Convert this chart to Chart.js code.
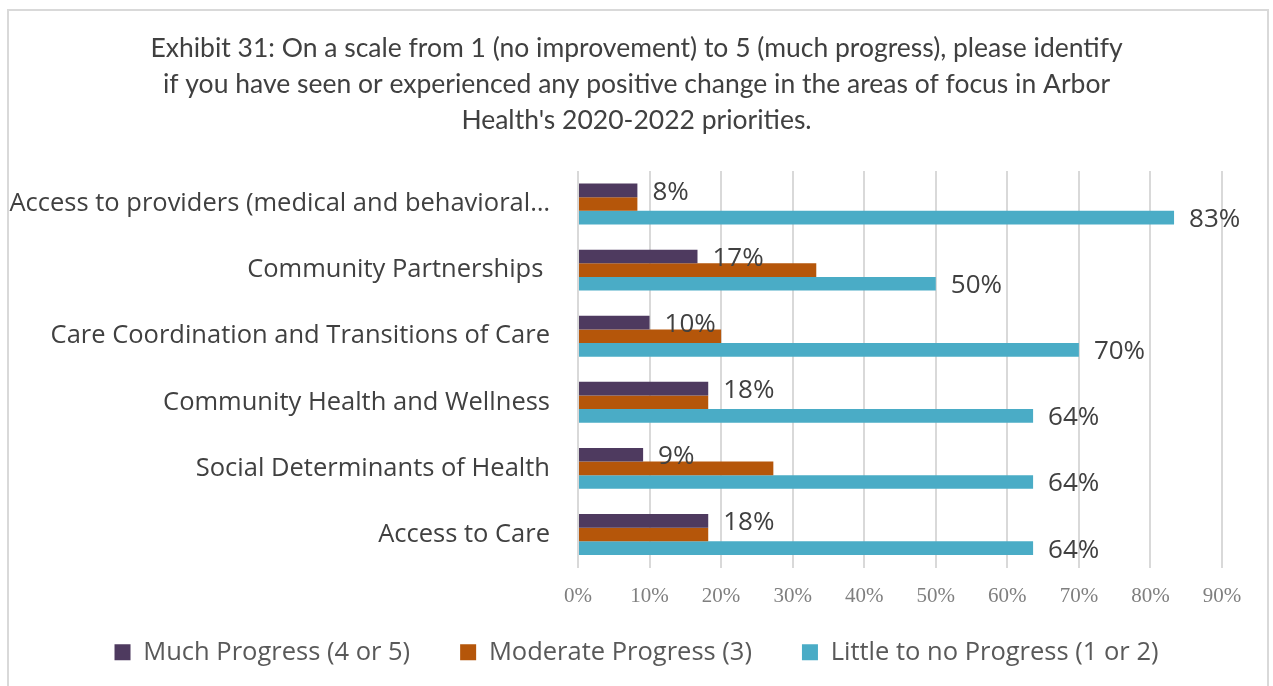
<!DOCTYPE html>
<html>
<head>
<meta charset="utf-8">
<script src="https://cdn.jsdelivr.net/npm/chart.js@4"></script>
<style>
  html, body { margin: 0; padding: 0; background: #ffffff; }
  #wrap { position: relative; width: 1273px; height: 686px; overflow: hidden; }
  #frame { position: absolute; left: 7px; top: 9px; width: 1262px; height: 700px; border: 2px solid #d9d9d9; box-sizing: border-box; pointer-events: none; }
  canvas { position: absolute; left: 0; top: 0; }
</style>
</head>
<body>
<div id="wrap">
  <canvas id="c" width="1273" height="686"></canvas>
  <div id="frame"></div>
</div>
<script>
const categories = [
  "Access to providers (medical and behavioral\u2026",
  "Community Partnerships ",
  "Care Coordination and Transitions of Care",
  "Community Health and Wellness",
  "Social Determinants of Health",
  "Access to Care"
];
const muchProgress     = [8.3, 16.7, 10.0, 18.2, 9.1, 18.2];
const moderateProgress = [8.3, 33.3, 20.0, 18.2, 27.3, 18.2];
const littleProgress   = [83.3, 50.0, 70.0, 63.6, 63.6, 63.6];
const seriesNames = ["Much Progress (4 or 5)", "Moderate Progress (3)", "Little to no Progress (1 or 2)"];
const titleLines = [
  "Exhibit 31: On a scale from 1 (no improvement) to 5 (much progress), please identify",
  "if you have seen or experienced any positive change in the areas of focus in Arbor",
  "Health's 2020-2022 priorities."
];
const labelledSeries = [0, 2];

const valueLabels = {
  id: 'valueLabels',
  afterDatasetsDraw(chart) {
    const ctx = chart.ctx;
    ctx.save();
    ctx.font = '26px "Open Sans"';
    ctx.fillStyle = '#404040';
    ctx.textAlign = 'left';
    ctx.textBaseline = 'middle';
    labelledSeries.forEach(di => {
      const meta = chart.getDatasetMeta(di);
      meta.data.forEach((el, i) => {
        const v = chart.data.datasets[di].data[i];
        ctx.fillText(Math.round(v) + '%', el.x + 15, el.y + 2);
      });
    });
    ctx.restore();
  }
};

new Chart(document.getElementById('c'), {
  type: 'bar',
  data: {
    labels: categories,
    datasets: [
      { label: seriesNames[0], data: muchProgress, backgroundColor: '#4e3a5f' },
      { label: seriesNames[1], data: moderateProgress, backgroundColor: '#b5560a' },
      { label: seriesNames[2], data: littleProgress, backgroundColor: '#4aacc6' }
    ]
  },
  options: {
    indexAxis: 'y',
    responsive: false,
    animation: false,
    datasets: { bar: { categoryPercentage: 0.62, barPercentage: 1.0 } },
    layout: { padding: { left: 51, right: 51, top: 0, bottom: 11 } },
    scales: {
      x: {
        min: 0, max: 90,
        ticks: {
          stepSize: 10,
          callback: v => v + '%',
          color: '#7f7f7f',
          font: { family: '"Liberation Serif"', size: 21 },
          padding: 16
        },
        grid: { color: '#d9d9d9', lineWidth: 2, drawTicks: false },
        border: { display: false },
        afterFit(scale) { scale.height = 22; scale._computeLabelArea = () => undefined; }
      },
      y: {
        ticks: {
          color: '#404040',
          font: { family: '"Open Sans"', size: 25.5 },
          padding: 28
        },
        grid: { display: false, drawTicks: false },
        border: { display: false },
        afterFit(scale) { scale.width = 527; scale._computeLabelArea = () => undefined; }
      }
    },
    plugins: {
      title: {
        display: true,
        text: titleLines,
        color: '#404040',
        font: { family: 'Lato', size: 26.5, weight: 'normal', lineHeight: 36 / 26.5 },
        padding: { top: 30, bottom: 33 }
      },
      legend: {
        position: 'bottom',
        labels: {
          boxWidth: 16,
          boxHeight: 16,
          padding: 50,
          color: '#595959',
          font: { family: '"Open Sans"', size: 25.5 }
        }
      },
      tooltip: { enabled: false }
    }
  },
  plugins: [valueLabels]
});
</script>
</body>
</html>
